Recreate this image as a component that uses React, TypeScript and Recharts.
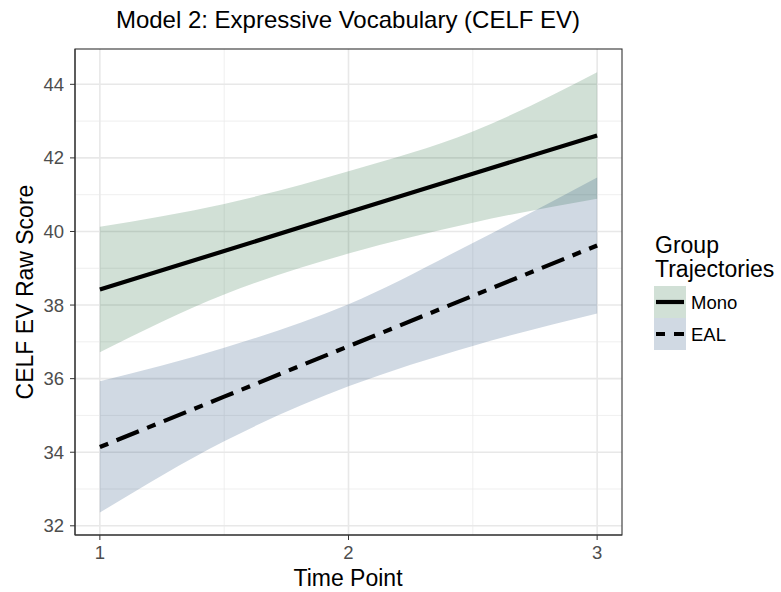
import React from "react";
import {
  ComposedChart,
  Area,
  Line,
  XAxis,
  YAxis,
  CartesianGrid,
} from "recharts";

// ---- data ----
const timePoints = [1, 1.5, 2, 2.5, 3];
const monoFit = [38.42, 39.47, 40.52, 41.57, 42.61];
const monoLower = [36.72, 38.29, 39.4, 40.24, 40.89];
const monoUpper = [40.13, 40.75, 41.64, 42.72, 44.33];
const ealFit = [34.14, 35.51, 36.88, 38.25, 39.62];
const ealLower = [32.36, 34.3, 35.79, 36.89, 37.77];
const ealUpper = [35.93, 36.84, 38.02, 39.69, 41.47];

const xTicks = [1, 2, 3];
const xMinor = [1.5, 2.5];
const yTicks = [32, 34, 36, 38, 40, 42, 44];
const yMinor = [33, 35, 37, 39, 41, 43];

const seriesNames = ["Mono", "EAL"];
const chartTitle = "Model 2: Expressive Vocabulary (CELF EV)";
const xTitle = "Time Point";
const yTitle = "CELF EV Raw Score";
const legendTitle = ["Group", "Trajectories"];

const data = timePoints.map((t, i) => ({
  t,
  mono: monoFit[i],
  monoBand: [monoLower[i], monoUpper[i]],
  eal: ealFit[i],
  ealBand: [ealLower[i], ealUpper[i]],
}));

const FONT = "'Liberation Sans', Arial, Helvetica, sans-serif";
const MONO_FILL = "#196432";
const EAL_FILL = "#144173";
const BAND_OPACITY = 0.2;
const DASH = "9 9 24 9";

const tickStyle = { fill: "#4d4d4d", fontSize: 18.5, fontFamily: FONT };

export default function App() {
  return (
    <div
      style={{
        position: "absolute",
        left: 0,
        top: 0,
        width: 781,
        height: 592,
        background: "#ffffff",
      }}
    >
      <ComposedChart
        width={781}
        height={592}
        data={data}
        margin={{ top: 49, right: 159, bottom: 0, left: 0 }}
      >
        <CartesianGrid
          stroke="#ebebeb"
          strokeWidth={0.8}
          horizontalValues={yMinor}
          verticalValues={xMinor}
        />
        <CartesianGrid
          stroke="#e8e8e8"
          strokeWidth={1.6}
          horizontalValues={yTicks}
          verticalValues={xTicks}
        />
        <XAxis
          dataKey="t"
          type="number"
          domain={[0.9, 3.1]}
          ticks={xTicks}
          allowDataOverflow
          height={57}
          tickSize={5}
          tickMargin={6}
          tick={tickStyle}
          tickLine={{ stroke: "#333333" }}
          axisLine={{ stroke: "#333333", strokeWidth: 1.1 }}
        />
        <YAxis
          type="number"
          domain={[31.75, 44.96]}
          ticks={yTicks}
          allowDataOverflow
          width={75}
          tickSize={5}
          tickMargin={6}
          tick={tickStyle}
          tickLine={{ stroke: "#333333" }}
          axisLine={{ stroke: "#333333", strokeWidth: 1.1 }}
        />
        <Area
          type="monotone"
          dataKey="monoBand"
          stroke="none"
          fill={MONO_FILL}
          fillOpacity={BAND_OPACITY}
          isAnimationActive={false}
          activeDot={false}
        />
        <Area
          type="monotone"
          dataKey="ealBand"
          stroke="none"
          fill={EAL_FILL}
          fillOpacity={BAND_OPACITY}
          isAnimationActive={false}
          activeDot={false}
        />
        <Line
          type="linear"
          dataKey="mono"
          stroke="#000000"
          strokeWidth={4.2}
          dot={false}
          activeDot={false}
          isAnimationActive={false}
        />
        <Line
          type="linear"
          dataKey="eal"
          stroke="#000000"
          strokeWidth={4.2}
          strokeDasharray={DASH}
          dot={false}
          activeDot={false}
          isAnimationActive={false}
        />
      </ComposedChart>
      <svg
        width={781}
        height={592}
        style={{ position: "absolute", left: 0, top: 0, pointerEvents: "none" }}
        fontFamily={FONT}
      >
        <rect x={75} y={49} width={547} height={486} fill="none" stroke="#333333" strokeWidth={1.1} />
        <text x={348} y={28} textAnchor="middle" fontSize={24} fill="#000">
          {chartTitle}
        </text>
        <text x={348} y={586} textAnchor="middle" fontSize={23} fill="#000">
          {xTitle}
        </text>
        <text
          x={0}
          y={0}
          textAnchor="middle"
          fontSize={23}
          fill="#000"
          transform="translate(33,292) rotate(-90)"
        >
          {yTitle}
        </text>
        <text x={655} y={253} fontSize={23} fill="#000">
          {legendTitle[0]}
        </text>
        <text x={655} y={277} fontSize={23} fill="#000">
          {legendTitle[1]}
        </text>
        <rect x={654} y={286} width={32} height={32} fill={MONO_FILL} fillOpacity={BAND_OPACITY} />
        <rect x={654} y={318} width={32} height={32} fill={EAL_FILL} fillOpacity={BAND_OPACITY} />
        <line x1={656} x2={684} y1={302} y2={302} stroke="#000" strokeWidth={4.2} />
        <line x1={656} x2={684} y1={334} y2={334} stroke="#000" strokeWidth={4.2} strokeDasharray={DASH} />
        <text x={691} y={309} fontSize={18.5} fill="#000">
          {seriesNames[0]}
        </text>
        <text x={691} y={341} fontSize={18.5} fill="#000">
          {seriesNames[1]}
        </text>
      </svg>
    </div>
  );
}
